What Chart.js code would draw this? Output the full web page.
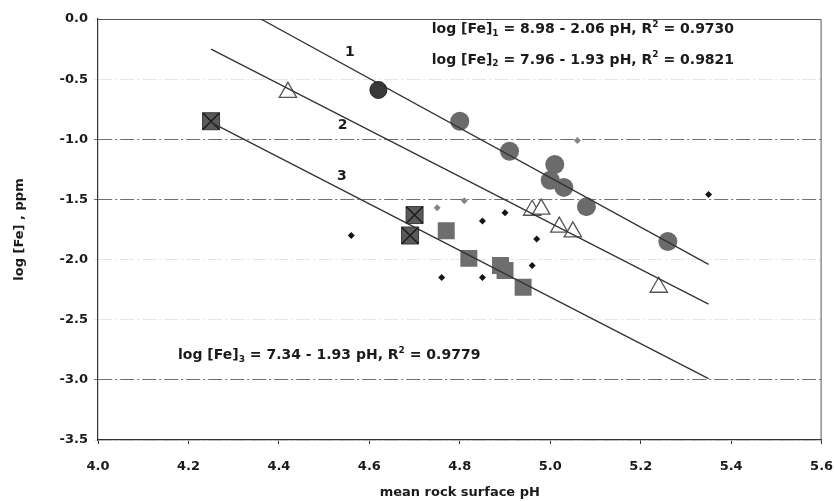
<!DOCTYPE html>
<html>
<head>
<meta charset="utf-8">
<script src="https://cdn.jsdelivr.net/npm/chart.js@4"></script>
<style>
  html, body { margin: 0; padding: 0; background: #fff; }
  .chartBox { width: 835px; height: 501px; }
</style>
</head>
<body>
<div class="chartBox"><canvas id="feChart"></canvas></div>
<script>
// values
var xTicks = [4.0, 4.2, 4.4, 4.6, 4.8, 5.0, 5.2, 5.4, 5.6];
var yTicks = [0.0, -0.5, -1.0, -1.5, -2.0, -2.5, -3.0, -3.5];

var darkCirclePH = [4.62];
var darkCircleFe = [-0.59];
var circlePH = [4.80, 4.91, 5.01, 5.00, 5.03, 5.08, 5.26];
var circleFe = [-0.85, -1.10, -1.21, -1.34, -1.40, -1.56, -1.85];

var trianglePH = [4.42, 4.96, 4.98, 5.02, 5.05, 5.24];
var triangleFe = [-0.61, -1.59, -1.58, -1.73, -1.77, -2.23];

var crossSquarePH = [4.25, 4.70, 4.69];
var crossSquareFe = [-0.85, -1.63, -1.80];
var squarePH = [4.77, 4.82, 4.89, 4.90, 4.94];
var squareFe = [-1.76, -1.99, -2.05, -2.09, -2.23];

var blackDiamondPH = [4.56, 4.85, 4.90, 4.97, 4.96, 4.76, 4.85, 5.35];
var blackDiamondFe = [-1.80, -1.68, -1.61, -1.83, -2.05, -2.15, -2.15, -1.46];
var greyDiamondPH = [4.75, 4.81, 5.06];
var greyDiamondFe = [-1.57, -1.51, -1.01];

var fit1PH = [4.36, 5.35];
var fit1Fe = [0.0, -2.04];
var fit2PH = [4.25, 5.35];
var fit2Fe = [-0.25, -2.37];
var fit3PH = [4.25, 5.35];
var fit3Fe = [-0.86, -2.99];

var xTitle = 'mean rock surface pH';
var yTitle = 'log [Fe] , ppm';

function pts(xs, ys) {
    return xs.map(function (x, i) { return { x: x, y: ys[i] }; });
}

var FONT = '"DejaVu Sans", Arial, sans-serif';

// draw text with sub/superscript pieces
function richText(ctx, x, y, parts) {
    var cx = x;
    parts.forEach(function (p) {
        if (p.sub) {
            ctx.font = 'bold 9px ' + FONT;
            ctx.fillText(p.t, cx, y + 4);
        } else if (p.sup) {
            ctx.font = 'bold 9px ' + FONT;
            ctx.fillText(p.t, cx, y - 5);
        } else {
            ctx.font = 'bold 14px ' + FONT;
            ctx.fillText(p.t, cx, y);
        }
        cx += ctx.measureText(p.t).width;
    });
}

var notes = {
    id: 'notes',
    beforeDatasetsDraw: function (chart) {
        var ctx = chart.ctx, a = chart.chartArea;
        ctx.save();
        ctx.strokeStyle = '#555';
        ctx.lineWidth = 1;
        ctx.beginPath();
        ctx.moveTo(a.left, a.top + 0.5);
        ctx.lineTo(a.right - 0.5, a.top + 0.5);
        ctx.lineTo(a.right - 0.5, a.bottom);
        ctx.stroke();
        ctx.restore();
    },
    afterDatasetsDraw: function (chart) {
        var ctx = chart.ctx, a = chart.chartArea;
        var xs = chart.scales.x, ys = chart.scales.y;
        ctx.save();
        ctx.fillStyle = '#1a1a1a';
        ctx.textBaseline = 'middle';
        ctx.textAlign = 'center';
        ctx.font = 'bold 13px ' + FONT;
        ctx.fillText(xTitle, (a.left + a.right) / 2, 493);
        ctx.font = 'bold 14px ' + FONT;
        ctx.fillText('1', xs.getPixelForValue(4.557), ys.getPixelForValue(-0.275));
        ctx.fillText('2', xs.getPixelForValue(4.541), ys.getPixelForValue(-0.882));
        ctx.fillText('3', xs.getPixelForValue(4.539), ys.getPixelForValue(-1.306));
        ctx.textAlign = 'left';
        richText(ctx, xs.getPixelForValue(4.738), ys.getPixelForValue(-0.09),
            [{ t: 'log [Fe]' }, { t: '1', sub: true }, { t: ' = 8.98 - 2.06 pH, R' }, { t: '2', sup: true }, { t: ' = 0.9730' }]);
        richText(ctx, xs.getPixelForValue(4.738), ys.getPixelForValue(-0.34),
            [{ t: 'log [Fe]' }, { t: '2', sub: true }, { t: ' = 7.96 - 1.93 pH, R' }, { t: '2', sup: true }, { t: ' = 0.9821' }]);
        richText(ctx, xs.getPixelForValue(4.177), ys.getPixelForValue(-2.80),
            [{ t: 'log [Fe]' }, { t: '3', sub: true }, { t: ' = 7.34 - 1.93 pH, R' }, { t: '2', sup: true }, { t: ' = 0.9779' }]);
        ctx.restore();
    }
};

function fitLine(label, xs, ys) {
    return {
        label: label, type: 'line', data: pts(xs, ys),
        borderColor: '#333', borderWidth: 1.3, pointRadius: 0, fill: false
    };
}

// note: lower index is drawn on top
var ctx = document.getElementById('feChart');
var chart = new Chart(ctx, {
    type: 'scatter',
    data: {
        datasets: [
            fitLine('fit 1', fit1PH, fit1Fe),
            fitLine('fit 2', fit2PH, fit2Fe),
            fitLine('fit 3', fit3PH, fit3Fe),
            {
                label: 'black diamonds', data: pts(blackDiamondPH, blackDiamondFe),
                pointStyle: 'rectRot', pointRadius: 3.5, backgroundColor: '#151515', borderColor: '#151515', borderWidth: 0
            },
            {
                label: 'grey diamonds', data: pts(greyDiamondPH, greyDiamondFe),
                pointStyle: 'rectRot', pointRadius: 3.5, backgroundColor: '#858585', borderColor: '#858585', borderWidth: 0
            },
            {
                label: 'crossed squares x', data: pts(crossSquarePH, crossSquareFe),
                pointStyle: 'crossRot', pointRadius: 12, borderColor: '#1a1a1a', borderWidth: 1.4
            },
            {
                label: 'crossed squares', data: pts(crossSquarePH, crossSquareFe),
                pointStyle: 'rect', pointRadius: 12, backgroundColor: '#5a5a5a', borderColor: '#3a3a3a', borderWidth: 1
            },
            {
                label: 'squares', data: pts(squarePH, squareFe),
                pointStyle: 'rect', pointRadius: 12, backgroundColor: '#6e6e6e', borderColor: '#6e6e6e', borderWidth: 0
            },
            {
                label: 'triangles', data: pts(trianglePH, triangleFe),
                pointStyle: 'triangle', pointRadius: 10, backgroundColor: '#fff', borderColor: '#555', borderWidth: 1.3
            },
            {
                label: 'dark circle', data: pts(darkCirclePH, darkCircleFe),
                pointStyle: 'circle', pointRadius: 8.5, backgroundColor: '#3a3a3a', borderColor: '#222', borderWidth: 1
            },
            {
                label: 'circles', data: pts(circlePH, circleFe),
                pointStyle: 'circle', pointRadius: 9.5, backgroundColor: '#6b6b6b', borderColor: '#6b6b6b', borderWidth: 0
            }
        ]
    },
    options: {
        responsive: true,
        maintainAspectRatio: false,
        animation: false,
        layout: { padding: { top: 19, right: 13, left: 0, bottom: 0 } },
        plugins: { legend: { display: false }, tooltip: { enabled: false } },
        scales: {
            x: {
                type: 'linear', min: 4.0, max: 5.6,
                afterBuildTicks: function (s) { s.ticks = xTicks.map(function (v) { return { value: v }; }); },
                afterFit: function (s) { s.height = 61; s.paddingLeft = 0; s.paddingRight = 0; },
                ticks: {
                    color: '#1a1a1a', font: { family: FONT, size: 13, weight: 'bold' }, padding: 15,
                    callback: function (v) { return v.toFixed(1); }
                },
                grid: { display: true, drawOnChartArea: false, drawTicks: true, tickLength: 4, color: '#333' },
                border: { color: '#333', width: 1.2 }
            },
            y: {
                type: 'linear', min: -3.5, max: 0.0,
                afterBuildTicks: function (s) { s.ticks = yTicks.map(function (v) { return { value: v }; }); },
                afterFit: function (s) { s.width = 98; s.paddingTop = 0; s.paddingBottom = 0; },
                ticks: {
                    color: '#1a1a1a', font: { family: FONT, size: 13, weight: 'bold' }, padding: 6,
                    callback: function (v) { return v.toFixed(1); }
                },
                grid: {
                    display: true, drawOnChartArea: true, drawTicks: true, tickLength: 4, lineWidth: 1,
                    color: function (c) {
                        var v = c.tick ? c.tick.value : 0;
                        if (v === -1 || v === -1.5 || v === -3) return '#707070';
                        return '#e6e6e6';
                    }
                },
                border: { color: '#333', width: 1.2, dash: [14, 3, 2, 3] },
                title: {
                    display: true, text: yTitle, color: '#1a1a1a',
                    font: { family: FONT, size: 13, weight: 'bold' }, padding: { top: 12, bottom: 0 }
                }
            }
        }
    },
    plugins: [notes]
});
</script>
</body>
</html>
